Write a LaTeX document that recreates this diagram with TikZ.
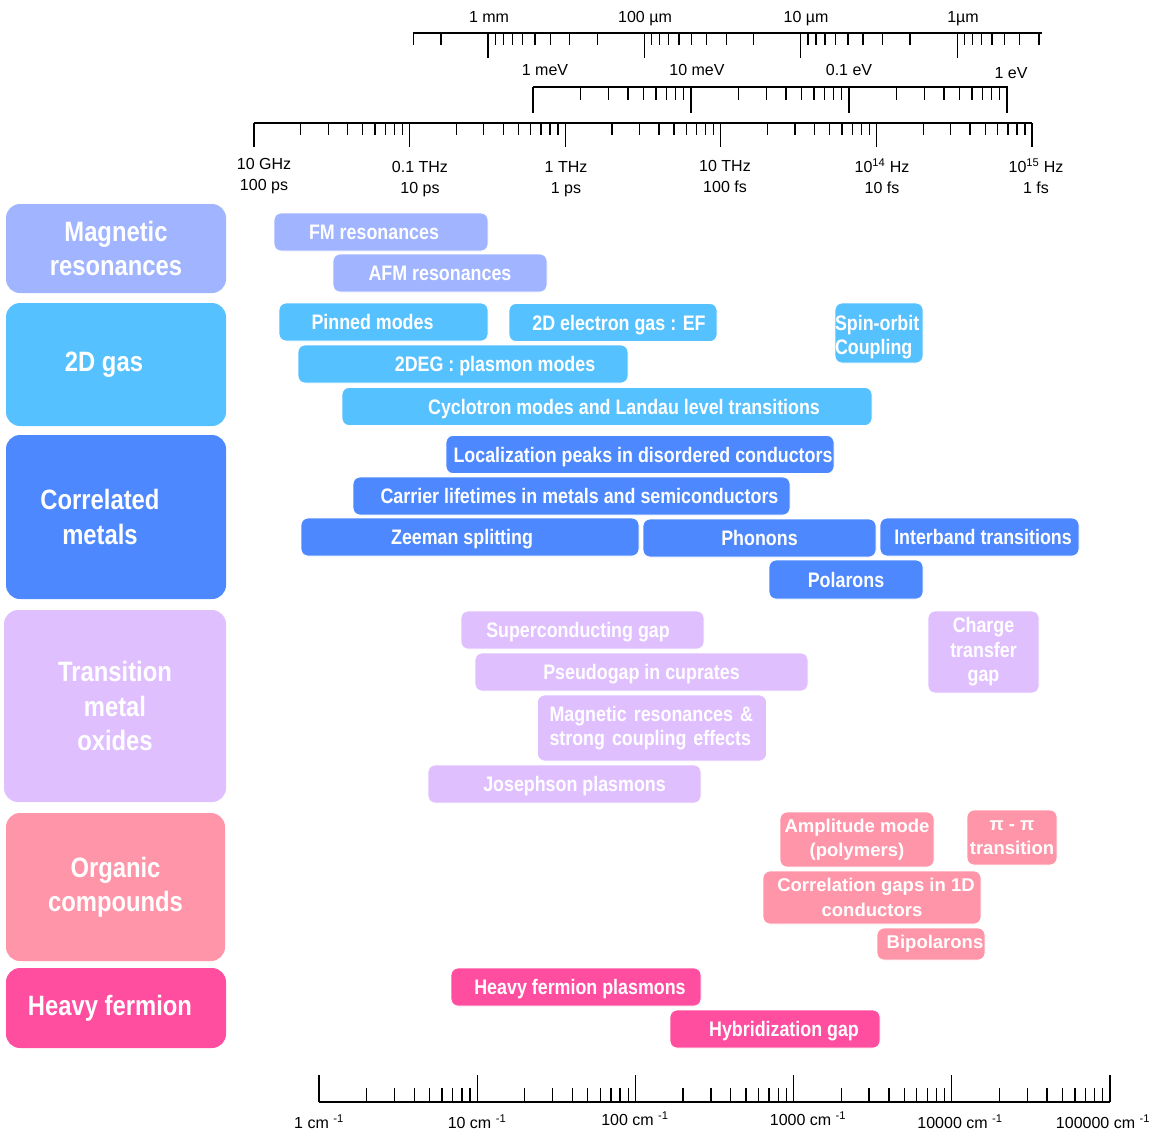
\documentclass[tikz,border=0pt]{standalone}
\usepackage{fontspec}
\setmainfont{Liberation Sans}
\newfontfamily\barfont[FakeStretch=0.85]{Liberation Sans}
\usetikzlibrary{positioning}
\definecolor{magBlue}{RGB}{160,180,255}
\definecolor{gasBlue}{RGB}{86,193,255}
\definecolor{metalBlue}{RGB}{77,136,255}
\definecolor{oxideLilac}{RGB}{224,191,255}
\definecolor{organicPink}{RGB}{255,149,168}
\definecolor{fermionPink}{RGB}{255,77,160}

\begin{document}
\begin{tikzpicture}[x=1pt, y=-1pt]
        \tikzstyle{cat} = [rectangle, rounded corners=14pt, inner sep=0pt, text=white, align=center, font=\barfont\bfseries\fontsize{28}{34.5}\selectfont]
        \tikzstyle{bar} = [rectangle, rounded corners=7pt, inner sep=0pt, minimum height=38pt, text=white, align=center, text height=15.3pt, text depth=0pt, draw=white, line width=0.8pt, font=\barfont\bfseries\fontsize{21}{24.5}\selectfont]
        \tikzstyle{multi} = [text height=, text depth=]
        \tikzstyle{orgbar} = [bar, multi, fill=organicPink, font=\bfseries\fontsize{18.5}{24.5}\selectfont]
        \tikzstyle{axistick} = [line width=1.3pt]
        \tikzstyle{axislabel} = [inner sep=0pt, align=center, font=\fontsize{16}{21}\selectfont]
        \useasboundingbox (0,0) rectangle (1155,1136);

        % Wavelength scale
        \draw[axistick] (413,33) -- (1042,33);
        \foreach \i in {0,...,3} \draw[axistick] ({488+156.4*\i},33) -- ++(0,25);
        \foreach \i in {0,1,2} \foreach \k in {2,...,9} \draw[axistick] ({488+156.4*(\i+1-log10(\k))},33) -- ++(0,12);
        \foreach \k in {2,3} \draw[axistick] ({488-156.4*log10(\k)},33) -- ++(0,12);
        \foreach \k in {3,...,9} \draw[axistick] ({957.2+156.4*(1-log10(\k))},33) -- ++(0,12);
        \node[axislabel, anchor=base] (wl1) at (489,22) {1 mm};
        \node[axislabel, anchor=base] (wl2) at (645,22) {100 µm};
        \node[axislabel, anchor=base] (wl3) at (806,22) {10 µm};
        \node[axislabel, anchor=base] (wl4) at (963,22) {1µm};

        % Energy scale
        \draw[axistick] (533,87) -- (1008,87);
        \foreach \i in {0,...,3} \draw[axistick] ({533+158*\i},87) -- ++(0,26);
        \foreach \i in {0,1,2} \foreach \k in {2,...,9} \draw[axistick] ({533+158*(\i+log10(\k))},87) -- ++(0,13);
        \node[axislabel, anchor=base] (en1) at (545,75) {1 meV};
        \node[axislabel, anchor=base] (en2) at (697,75) {10 meV};
        \node[axislabel, anchor=base] (en3) at (849,75) {0.1 eV};
        \node[axislabel, anchor=base] (en4) at (1011,78) {1 eV};

        % Frequency scale
        \draw[axistick] (254,123) -- (1032,123);
        \foreach \i in {0,...,5} \draw[axistick] ({254+155.6*\i},123) -- ++(0,24);
        \foreach \i in {0,...,4} \foreach \k in {2,...,9} \draw[axistick] ({254+155.6*(\i+log10(\k))},123) -- ++(0,12);
        \node[axislabel] (fr1) at (264,176.5) {10 GHz\\100 ps};
        \node[axislabel] (fr2) at (420,179.5) {0.1 THz\\10 ps};
        \node[axislabel] (fr3) at (566,179.5) {1 THz\\1 ps};
        \node[axislabel] (fr4) at (725,176.5) {10 THz\\100 fs};
        \node[axislabel] (fr5) at (882,176.5) {10\textsuperscript{14} Hz\\10 fs};
        \node[axislabel] (fr6) at (1036,176.5) {10\textsuperscript{15} Hz\\1 fs};

        % Wavenumber scale
        \draw[axistick] (319,1102) -- (1110,1102);
        \foreach \i in {0,...,5} \draw[axistick] ({319+158.2*\i},1102) -- ++(0,-27);
        \foreach \i in {0,...,4} \foreach \k in {2,...,9} \draw[axistick] ({319+158.2*(\i+log10(\k))},1102) -- ++(0,-14);
        \node[axislabel] (wn1) at (319,1122) {1 cm \textsuperscript{-1}};
        \node[axislabel] (wn2) at (477,1122) {10 cm \textsuperscript{-1}};
        \node[axislabel] (wn3) at (635,1119) {100 cm \textsuperscript{-1}};
        \node[axislabel] (wn4) at (808,1119) {1000 cm \textsuperscript{-1}};
        \node[axislabel] (wn5) at (960,1122) {10000 cm \textsuperscript{-1}};
        \node[axislabel] (wn6) at (1103,1122) {100000 cm \textsuperscript{-1}};

        % Magnetic resonances
        \node[cat, fill=magBlue, minimum width=220pt, minimum height=89pt] (magres) at (116,248.5) {Magnetic\\resonances};
        \node[bar, fill=magBlue, minimum width=214pt] (fm) at (381,232) {FM resonances\hspace*{14pt}};
        \node[bar, fill=magBlue, minimum width=214pt] (afm) at (440,273) {AFM resonances};

        % 2D gas
        \node[cat, fill=gasBlue, minimum width=220pt, minimum height=123pt] (gas) at (116,364.5) {2D gas\hspace*{24pt}};
        \node[bar, fill=gasBlue, minimum width=209pt] (pinned) at (383.5,322) {Pinned modes\hspace*{22pt}};
        \node[bar, fill=gasBlue, minimum width=208pt] (egas) at (613,322.5) {\hspace*{12pt}2D electron gas : EF};
        \node[bar, multi, fill=gasBlue, minimum width=88pt, minimum height=60pt, text width=88pt, align=left] (spinorbit) at (879,333) {\rule{0pt}{23pt}Spin-orbit\\Coupling};
        \node[bar, fill=gasBlue, minimum width=330pt] (plasmon) at (463,364) {\hspace*{64pt}2DEG : plasmon modes};
        \node[bar, fill=gasBlue, minimum width=530pt] (cyclotron) at (607,406.5) {\hspace*{34pt}Cyclotron modes and Landau level transitions};

        % Correlated metals
        \node[cat, fill=metalBlue, minimum width=220pt, minimum height=164pt] (corr) at (116,517) {Correlated\hspace*{32pt}\\metals\hspace*{32pt}};
        \node[bar, fill=metalBlue, minimum width=388pt] (localization) at (640,454.5) {\hspace*{6pt}Localization peaks in disordered conductors};
        \node[bar, fill=metalBlue, minimum width=437pt] (carrier) at (571.5,496) {\hspace*{16pt}Carrier lifetimes in metals and semiconductors};
        \node[bar, fill=metalBlue, minimum width=338pt] (zeeman) at (470,537) {Zeeman splitting\hspace*{16pt}};
        \node[bar, fill=metalBlue, minimum width=233pt] (phonons) at (759.5,538) {Phonons};
        \node[bar, fill=metalBlue, minimum width=199pt] (interband) at (979.5,537) {\hspace*{7pt}Interband transitions};
        \node[bar, fill=metalBlue, minimum width=154pt, minimum height=39pt] (polarons) at (846,579.5) {Polarons};

        % Transition metal oxides
        \node[cat, fill=oxideLilac, minimum width=222pt, minimum height=192pt] (tmo) at (115,706) {Transition\\metal\\oxides};
        \node[bar, fill=oxideLilac, minimum width=243pt] (supercond) at (582.5,630) {Superconducting gap\hspace*{9pt}};
        \node[bar, fill=oxideLilac, minimum width=333pt] (pseudogap) at (641.5,672) {Pseudogap in cuprates};
        \node[bar, multi, fill=oxideLilac, minimum width=229pt, minimum height=66pt, text width=205pt, align=left] (magstrong) at (652,728) {Magnetic resonances \&\\strong coupling effects};
        \node[bar, fill=oxideLilac, minimum width=273pt] (josephson) at (564.5,784) {\hspace*{20pt}Josephson plasmons};
        \node[bar, multi, fill=oxideLilac, minimum width=111pt, minimum height=82pt] (chargetransfer) at (983.5,652) {Charge\\transfer\\gap};

        % Organic compounds
        \node[cat, fill=organicPink, minimum width=219pt, minimum height=148pt] (organic) at (115.5,887) {Organic\\compounds};
        \node[orgbar, minimum width=154pt, minimum height=55pt] (amplitude) at (857,839.5) {Amplitude mode\\(polymers)};
        \node[orgbar, minimum width=90pt, minimum height=55pt] (pipi) at (1012,837.5) {π - π\\transition};
        \node[orgbar, minimum width=218pt, minimum height=53pt] (corrgaps) at (872,897.5) {\hspace*{8pt}Correlation gaps in 1D\\conductors};
        \node[orgbar, minimum width=108pt, minimum height=32pt] (bipolarons) at (931,944) {\hspace*{8pt}Bipolarons};

        % Heavy fermion
        \node[cat, fill=fermionPink, minimum width=220pt, minimum height=80pt] (heavyf) at (116,1008) {Heavy fermion\hspace*{12pt}};
        \node[bar, fill=fermionPink, minimum width=250pt] (hfplasmons) at (576,987) {\hspace*{8pt}Heavy fermion plasmons};
        \node[bar, fill=fermionPink, minimum width=210pt] (hybridization) at (775,1029) {\hspace*{18pt}Hybridization gap};
    \end{tikzpicture}
\end{document}
